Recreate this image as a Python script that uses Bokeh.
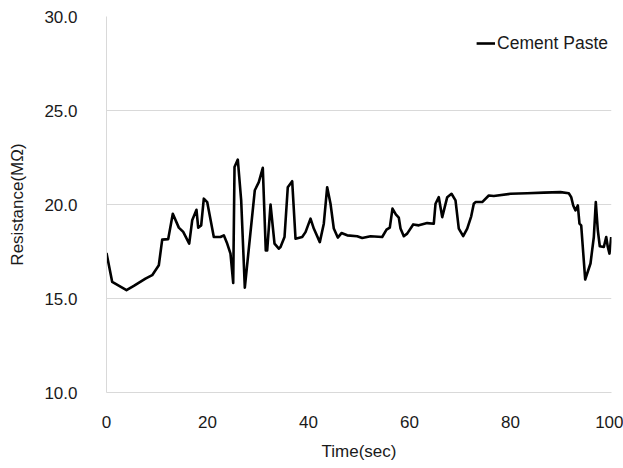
from bokeh.plotting import figure
from bokeh.models import Range1d, FixedTicker, PrintfTickFormatter, Legend, LegendItem
from bokeh.embed import file_html
from bokeh.resources import INLINE

# Data
time_sec = [0.0, 1.13, 3.96, 5.41, 7.72, 9.05, 10.36, 11.03, 12.22, 13.13, 14.32, 15.19,
            16.38, 16.97, 17.82, 18.16, 18.75, 19.27, 19.94, 21.25, 22.57, 23.23, 23.9,
            24.55, 25.09, 25.35, 26.0, 26.67, 27.39, 29.37, 30.16, 30.95, 31.54, 31.82,
            32.48, 33.27, 34.12, 34.46, 35.25, 35.9, 36.77, 37.43, 38.75, 39.41, 40.4,
            41.05, 42.24, 43.03, 43.7, 44.36, 45.01, 45.8, 46.53, 47.66, 49.64, 50.63,
            52.28, 54.59, 55.45, 56.1, 56.63, 57.29, 57.88, 58.22, 58.87, 59.54, 60.73,
            61.84, 63.5, 64.81, 65.15, 65.8, 66.48, 67.47, 68.32, 69.11, 69.76, 70.63,
            71.43, 72.22, 72.73, 73.07, 74.4, 75.7, 76.69, 80.0, 83.3, 86.6, 89.9, 91.54,
            92.02, 92.42, 92.87, 93.33, 93.66, 94.0, 94.79, 95.84, 96.5, 96.89, 97.29,
            97.68, 98.48, 98.95, 99.27, 99.6, 99.94]
resistance = [17.42, 15.88, 15.44, 15.67, 16.06, 16.24, 16.77, 18.13, 18.16, 19.51, 18.77, 18.54,
              17.92, 19.16, 19.72, 18.77, 18.89, 20.31, 20.13, 18.27, 18.27, 18.36, 17.92,
              17.39, 15.83, 21.99, 22.39, 20.22, 15.58, 20.76, 21.19, 21.95, 17.56, 17.56,
              20.0, 17.92, 17.65, 17.74, 18.27, 20.92, 21.24, 18.18, 18.27, 18.53, 19.25,
              18.72, 18.0, 18.98, 20.92, 20.04, 18.72, 18.24, 18.48, 18.36, 18.31, 18.22,
              18.31, 18.27, 18.66, 18.77, 19.78, 19.47, 19.3, 18.72, 18.31, 18.45, 18.94,
              18.89, 19.01, 18.98, 20.04, 20.39, 19.33, 20.39, 20.57, 20.22, 18.72, 18.32,
              18.72, 19.37, 20.04, 20.13, 20.13, 20.48, 20.45, 20.57, 20.6, 20.63, 20.66, 20.6,
              20.39, 19.95, 19.69, 19.95, 18.98, 18.89, 16.01, 16.86, 18.27, 20.13, 18.63,
              17.78, 17.74, 18.27, 17.74, 17.39, 18.27]

x_ticks = [0, 20, 40, 60, 80, 100]
y_ticks = [10, 15, 20, 25, 30]
series_name = "Cement Paste"

FONT = "Liberation Sans"
TXT = "#1a1a1a"
GRID = "#d9d9d9"

p = figure(width=623, height=468, output_backend="svg", toolbar_location=None,
           x_range=Range1d(0, 100), y_range=Range1d(10, 30),
           min_border_left=106, min_border_right=12, min_border_top=16, min_border_bottom=76)

p.outline_line_color = None
p.background_fill_color = "white"
p.border_fill_color = "white"

r = p.line(time_sec, resistance, line_color="black", line_width=2.6, line_join="round")

# axes
p.xaxis.ticker = FixedTicker(ticks=x_ticks)
p.yaxis.ticker = FixedTicker(ticks=y_ticks)
p.yaxis.formatter = PrintfTickFormatter(format="%.1f")
for ax in (p.xaxis[0], p.yaxis[0]):
    ax.major_tick_line_color = None
    ax.minor_tick_line_color = None
    ax.axis_line_color = GRID
    ax.axis_line_width = 1
    ax.major_label_text_font = FONT
    ax.major_label_text_font_size = "17px"
    ax.major_label_text_color = TXT
    ax.axis_label_text_font = FONT
    ax.axis_label_text_font_size = "17px"
    ax.axis_label_text_font_style = "normal"
    ax.axis_label_text_color = TXT

p.xaxis.axis_label = "Time(sec)"
p.yaxis.axis_label = "Resistance(MΩ)"
p.xaxis.major_label_standoff = 17
p.yaxis.major_label_standoff = 23
p.xaxis.axis_label_standoff = 11
p.yaxis.axis_label_standoff = 14

p.xgrid.grid_line_color = None
p.ygrid.ticker = FixedTicker(ticks=y_ticks)
p.ygrid.grid_line_color = GRID
p.ygrid.grid_line_width = 1

legend = Legend(items=[LegendItem(label=series_name, renderers=[r])], location="top_right")
legend.border_line_color = None
legend.background_fill_alpha = 0
legend.margin = 3
legend.padding = 3
legend.glyph_width = 19
legend.glyph_height = 48
legend.label_height = 48
legend.label_standoff = 2
legend.label_text_font = FONT
legend.label_text_font_size = "17.5px"
legend.label_text_color = TXT
p.add_layout(legend)

open("out.html", "w").write(file_html(p, INLINE))
